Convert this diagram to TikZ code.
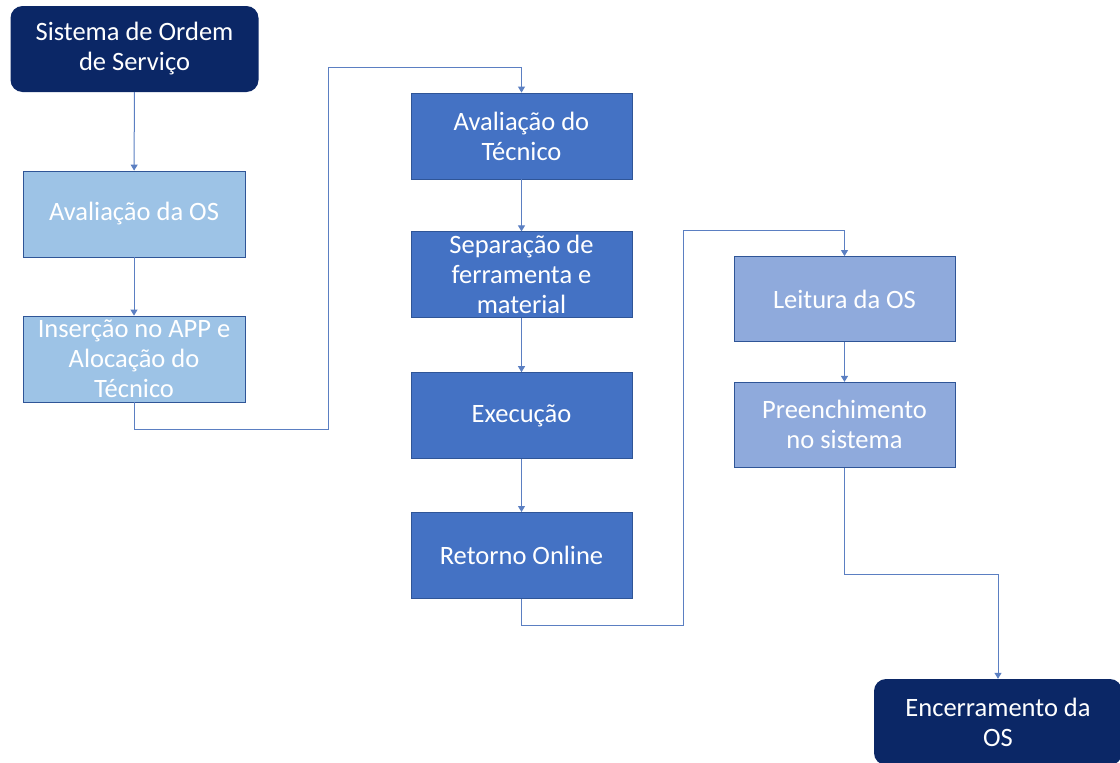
\documentclass[tikz,border=0pt]{standalone}
\usepackage{fontspec}
\setmainfont{Carlito}
\usepackage{tikz}
\usetikzlibrary{positioning,arrows.meta}

\definecolor{navy}{HTML}{0B2766}
\definecolor{pale}{HTML}{9DC3E6}
\definecolor{mid}{HTML}{4472C4}
\definecolor{soft}{HTML}{8FAADC}
\definecolor{edge}{HTML}{2F5597}
\definecolor{wire}{HTML}{5B7FC2}

\begin{document}
\begin{tikzpicture}[x=1pt, y=1pt,
    every node/.style={font=\fontsize{26.5}{30}\selectfont, text=white, align=center, inner sep=0pt},
    endbox/.style={fill=navy, rounded corners=12pt, minimum width=248pt, minimum height=86pt},
    lightbox/.style={fill=pale, draw=edge, thick, minimum width=222pt, minimum height=86pt},
    darkbox/.style={fill=mid, draw=edge, thick, minimum width=221pt, minimum height=86pt},
    softbox/.style={fill=soft, draw=edge, thick, minimum width=221pt, minimum height=85pt},
    flow/.style={draw=wire, line width=1pt, -{Triangle[width=7pt,length=6pt]}}]
  \useasboundingbox (0,0) rectangle (1120,-763);
  % first column
  \node [endbox] (ordem) at (134.5,-49) {Sistema de Ordem\\de Serviço};
  \node [lightbox] (avalOS) at (134,-214) {Avaliação da OS};
  \node [lightbox] (insercao) at (134,-359) {Inserção no APP e\\Alocação do\\Técnico};
  % second column
  \node [darkbox] (avalTec) at (521.5,-136) {Avaliação do\\Técnico};
  \node [darkbox, below=52pt of avalTec] (separa) {Separação de\\ferramenta e\\material};
  \node [darkbox, below=54pt of separa] (execucao) {Execução};
  \node [darkbox, below=53pt of execucao] (retorno) {Retorno Online};
  % third column
  \node [softbox] (leitura) at (844.5,-299) {Leitura da OS};
  \node [softbox, below=40pt of leitura] (preench) {Preenchimento\\no sistema};
  \node [endbox] (encerra) at (998,-722) {Encerramento da\\OS};

  \draw [flow] (ordem) -- (avalOS);
  \draw [flow] (avalOS) -- (insercao);
  \draw [flow] (insercao.south) |- (328,-429) |- (521.5,-67) -- (avalTec.north);
  \draw [flow] (avalTec) -- (separa);
  \draw [flow] (separa) -- (execucao);
  \draw [flow] (execucao) -- (retorno);
  \draw [flow] (retorno.south) |- (683,-625) |- (844.5,-230) -- (leitura.north);
  \draw [flow] (leitura) -- (preench);
  \draw [flow] (preench.south) |- (998,-574) -- (encerra.north);
\end{tikzpicture}
\end{document}
